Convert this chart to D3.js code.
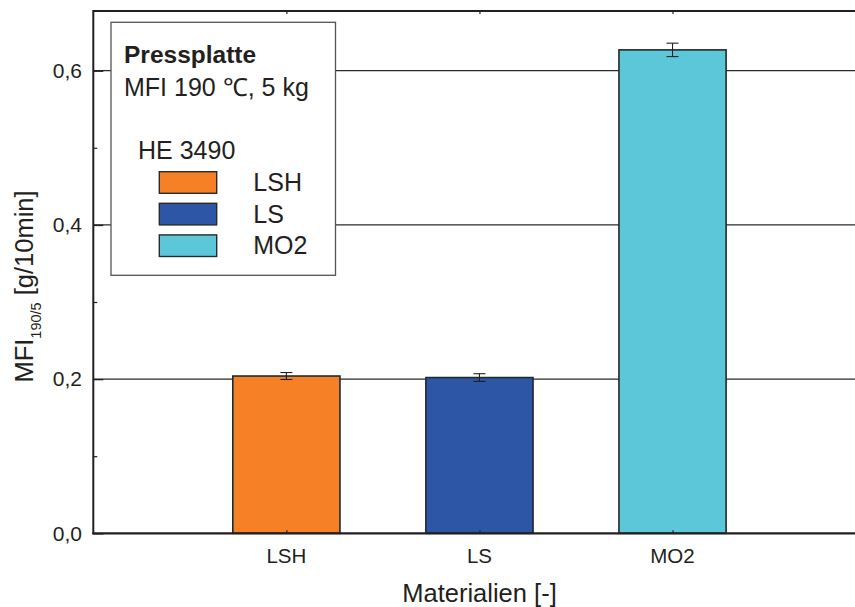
<!DOCTYPE html>
<html>
<head>
<meta charset="utf-8">
<script src="https://cdn.jsdelivr.net/npm/d3@7"></script>
<style>
  html, body { margin: 0; padding: 0; background: #fff; }
  svg { display: block; }
  text { font-family: "Liberation Sans", Arial, Helvetica, sans-serif; fill: #231f20; }
</style>
</head>
<body>
<svg id="chart" width="855" height="607"></svg>
<script>
// ---- data ----
const categories = ["LSH", "LS", "MO2"];
const values = [0.204, 0.202, 0.627];
const errors = [0.0045, 0.005, 0.0087];
const colors = ["#F58025", "#2E56A6", "#5BC7D9"];
const yTicks = [0, 0.2, 0.4, 0.6];
const yMinorTicks = [0.1, 0.3, 0.5];
const yGrid = [0.2, 0.4, 0.6];
const legendTitle = "Pressplatte";
const legendSubtitle = "MFI 190 \u2103, 5 kg";
const legendGroup = "HE 3490";
const xTitle = "Materialien [-]";

// ---- layout ----
const svg = d3.select("#chart");
const left = 93.3, bottom = 533.3, topY = 11;
const x = d3.scaleLinear().domain([0, 4]).range([left, 865.6]);
const y = d3.scaleLinear().domain([0, 0.6]).range([bottom, 70.7]);
const fmt = v => d3.format(".1f")(v).replace(".", ",");
const barW = x(0.555) - x(0);
const ink = "#231f20";

// grid lines
svg.append("g").selectAll("line").data(yGrid).join("line")
  .attr("x1", left).attr("x2", 855)
  .attr("y1", d => y(d)).attr("y2", d => y(d))
  .attr("stroke", "#2b2b2b").attr("stroke-width", 1.2);

// bars
svg.append("g").selectAll("rect").data(values).join("rect")
  .attr("x", (d, i) => x(i + 1) - barW / 2)
  .attr("width", barW)
  .attr("y", d => y(d))
  .attr("height", d => y(0) - y(d))
  .attr("fill", (d, i) => colors[i])
  .attr("stroke", "#1f2a2e").attr("stroke-width", 1.6);

// error bars
const eg = svg.append("g").attr("stroke", ink).attr("stroke-width", 1.1);
values.forEach((v, i) => {
  const cx = x(i + 1);
  const y1 = y(v + errors[i]), y2 = y(v - errors[i]);
  eg.append("line").attr("x1", cx).attr("x2", cx).attr("y1", y1).attr("y2", y2);
  eg.append("line").attr("x1", cx - 6).attr("x2", cx + 6).attr("y1", y1).attr("y2", y1);
  eg.append("line").attr("x1", cx - 6).attr("x2", cx + 6).attr("y1", y2).attr("y2", y2);
});

// frame: top, left, bottom
svg.append("line").attr("x1", left).attr("x2", 855).attr("y1", topY).attr("y2", topY)
  .attr("stroke", ink).attr("stroke-width", 1.8);
svg.append("line").attr("x1", left).attr("x2", left).attr("y1", topY - 0.9).attr("y2", bottom + 1)
  .attr("stroke", ink).attr("stroke-width", 2);
svg.append("line").attr("x1", left - 1).attr("x2", 855).attr("y1", bottom).attr("y2", bottom)
  .attr("stroke", ink).attr("stroke-width", 2.2);

// y axis ticks (inward)
const yAxis = d3.axisRight(y).tickValues(yTicks).tickSize(10).tickFormat("");
const gy = svg.append("g").attr("transform", `translate(${left},0)`).call(yAxis);
gy.select(".domain").remove();
gy.selectAll(".tick line").attr("stroke", ink).attr("stroke-width", 1.4);
const yAxisMinor = d3.axisRight(y).tickValues(yMinorTicks).tickSize(4).tickFormat("");
const gym = svg.append("g").attr("transform", `translate(${left},0)`).call(yAxisMinor);
gym.select(".domain").remove();
gym.selectAll(".tick line").attr("stroke", ink).attr("stroke-width", 1.2);

// y tick labels
svg.append("g").selectAll("text").data(yTicks).join("text")
  .attr("x", 82).attr("y", d => y(d) + 7.3)
  .attr("text-anchor", "end").attr("font-size", 21)
  .text(fmt);

// x ticks (small, inward) on bottom and top
const xs = categories.map((c, i) => i + 1);
const xAxisB = d3.axisTop(x).tickValues(xs).tickSize(3).tickFormat("");
const gxb = svg.append("g").attr("transform", `translate(0,${bottom})`).call(xAxisB);
gxb.select(".domain").remove();
gxb.selectAll(".tick line").attr("stroke", ink).attr("stroke-width", 1.2);
const xAxisT = d3.axisBottom(x).tickValues(xs).tickSize(3).tickFormat("");
const gxt = svg.append("g").attr("transform", `translate(0,${topY})`).call(xAxisT);
gxt.select(".domain").remove();
gxt.selectAll(".tick line").attr("stroke", ink).attr("stroke-width", 1.2);

// x tick labels
svg.append("g").selectAll("text").data(categories).join("text")
  .attr("x", (d, i) => x(i + 1)).attr("y", 562.7)
  .attr("text-anchor", "middle").attr("font-size", 20.5)
  .text(d => d);

// x title
svg.append("text").attr("x", 479.5).attr("y", 601.5)
  .attr("text-anchor", "middle").attr("font-size", 25.5)
  .text(xTitle);

// y title
const yt = svg.append("text")
  .attr("transform", `translate(32.7,286.5) rotate(-90)`)
  .attr("text-anchor", "middle").attr("font-size", 25.5);
yt.append("tspan").text("MFI");
yt.append("tspan").attr("font-size", 14.5).attr("dy", 8.5).text("190/5");
yt.append("tspan").attr("dy", -8.5).text(" [g/10min]");

// legend
const lg = svg.append("g");
lg.append("rect").attr("x", 111).attr("y", 22.3).attr("width", 224.5).attr("height", 253)
  .attr("fill", "#fff").attr("stroke", "#555").attr("stroke-width", 1.3);
lg.append("text").attr("x", 124).attr("y", 63.3).attr("font-size", 24.5)
  .attr("font-weight", "bold").text(legendTitle);
lg.append("text").attr("x", 124).attr("y", 96).attr("font-size", 25).text(legendSubtitle);
lg.append("text").attr("x", 138).attr("y", 159.3).attr("font-size", 25).text(legendGroup);
categories.forEach((c, i) => {
  const yy = 171.7 + i * 31.6;
  lg.append("rect").attr("x", 159.3).attr("y", yy).attr("width", 57.4).attr("height", 21.6)
    .attr("fill", colors[i]).attr("stroke", "#2a2a2a").attr("stroke-width", 1.4);
  lg.append("text").attr("x", 253.3).attr("y", yy + 19.5).attr("font-size", 25).text(c);
});
</script>
</body>
</html>
